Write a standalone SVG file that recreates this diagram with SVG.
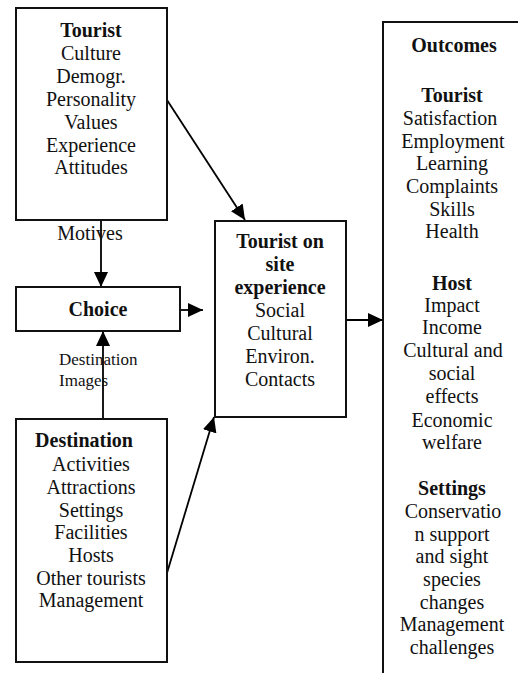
<svg xmlns="http://www.w3.org/2000/svg" width="518" height="673" viewBox="0 0 518 673">
  <style>
    .box { fill: #ffffff; stroke: #111111; stroke-width: 2; }
    .link { stroke: #000000; stroke-width: 1.8; fill: none; }
    text { font-family: "Liberation Serif", "Times New Roman", "DejaVu Serif", serif; font-size: 20px; fill: #111111; text-anchor: middle; }
    .b { font-weight: bold; }
    .small { font-size: 17px; text-anchor: start; }
  </style>
  <defs>
    <marker id="arrow" markerUnits="userSpaceOnUse" markerWidth="16" markerHeight="16" viewBox="0 0 16 16" refX="15" refY="8" orient="auto">
      <path d="M0,1 L15,8 L0,15 Z" fill="#000000"/>
    </marker>
  </defs>

  <rect width="518" height="673" fill="#ffffff"/>

  <!-- connectors -->
  <g id="connectors">
    <line class="link" x1="101" y1="220" x2="101" y2="287" marker-end="url(#arrow)"/>
    <line class="link" x1="167" y1="100" x2="245" y2="220" marker-end="url(#arrow)"/>
    <line class="link" x1="180" y1="310" x2="203" y2="310" marker-end="url(#arrow)"/>
    <line class="link" x1="103" y1="419" x2="103" y2="331" marker-end="url(#arrow)"/>
    <line class="link" x1="167" y1="573" x2="214" y2="417" marker-end="url(#arrow)"/>
    <line class="link" x1="346" y1="320" x2="383" y2="320" marker-end="url(#arrow)"/>
  </g>

  <!-- tourist profile -->
  <g id="tourist">
    <rect class="box" x="16" y="8" width="151" height="212"/>
    <text x="91" y="37" class="b">Tourist</text>
    <text x="91" y="60">Culture</text>
    <text x="91" y="83">Demogr.</text>
    <text x="91" y="106">Personality</text>
    <text x="91" y="129">Values</text>
    <text x="91" y="152">Experience</text>
    <text x="91" y="174">Attitudes</text>
  </g>

  <g id="motives-label">
    <text x="90" y="240">Motives</text>
  </g>

  <!-- choice -->
  <g id="choice">
    <rect class="box" x="16" y="287" width="164" height="44"/>
    <text x="98" y="316" class="b">Choice</text>
  </g>

  <g id="images-label">
    <text x="59" y="365" class="small">Destination</text>
    <text x="59" y="386" class="small">Images</text>
  </g>

  <!-- destination attributes -->
  <g id="destination">
    <rect class="box" x="16" y="419" width="151" height="243"/>
    <text x="84" y="447" class="b">Destination</text>
    <text x="91" y="471">Activities</text>
    <text x="91" y="494">Attractions</text>
    <text x="91" y="517">Settings</text>
    <text x="91" y="539">Facilities</text>
    <text x="91" y="562">Hosts</text>
    <text x="91" y="585">Other tourists</text>
    <text x="91" y="607">Management</text>
  </g>

  <!-- on-site experience -->
  <g id="experience">
    <rect class="box" x="215" y="221" width="131" height="196"/>
    <text x="280" y="248" class="b">Tourist on</text>
    <text x="280" y="271" class="b">site</text>
    <text x="280" y="294" class="b">experience</text>
    <text x="280" y="317">Social</text>
    <text x="280" y="340">Cultural</text>
    <text x="280" y="363">Environ.</text>
    <text x="280" y="386">Contacts</text>
  </g>

  <!-- outcomes -->
  <g id="outcomes">
    <rect class="box" x="383" y="22" width="200" height="700"/>
    <text x="454" y="52" class="b">Outcomes</text>
    <text x="452" y="102" class="b">Tourist</text>
    <text x="450" y="125">Satisfaction</text>
    <text x="453" y="148">Employment</text>
    <text x="452" y="170">Learning</text>
    <text x="452" y="193">Complaints</text>
    <text x="452" y="216">Skills</text>
    <text x="452" y="238">Health</text>
    <text x="452" y="290" class="b">Host</text>
    <text x="452" y="312">Impact</text>
    <text x="452" y="334">Income</text>
    <text x="453" y="357">Cultural and</text>
    <text x="452" y="380">social</text>
    <text x="452" y="403">effects</text>
    <text x="452" y="427">Economic</text>
    <text x="452" y="449">welfare</text>
    <text x="452" y="495" class="b">Settings</text>
    <text x="453" y="518">Conservatio</text>
    <text x="452" y="541">n support</text>
    <text x="452" y="563">and sight</text>
    <text x="452" y="586">species</text>
    <text x="452" y="609">changes</text>
    <text x="452" y="631">Management</text>
    <text x="452" y="654">challenges</text>
  </g>
</svg>
